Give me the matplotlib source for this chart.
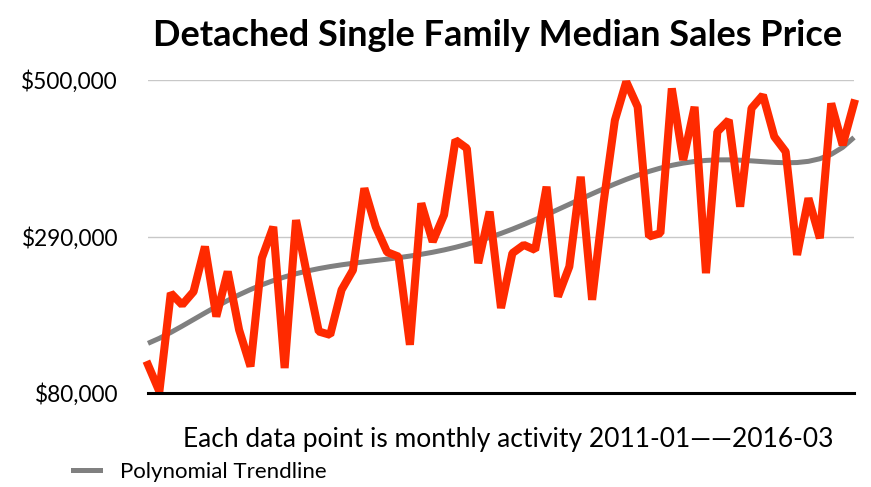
import numpy as np
import matplotlib.pyplot as plt
from matplotlib.lines import Line2D

plt.rcParams['font.family'] = ['Lato', 'DejaVu Sans']

# monthly median sales price, 2011-01 .. 2016-03
prices = [117800, 82000, 214000, 198300, 216000, 276500, 182600, 243000, 164800,
          115600, 261000, 303000, 113500, 312000, 236000, 162500, 158000, 218400,
          245000, 354700, 303000, 269000, 263000, 144700, 334600, 283000, 319000,
          419400, 408300, 254200, 323400, 194000, 267600, 278700, 272000, 356800,
          209400, 249600, 370200, 205000, 335000, 446000, 497700, 464000, 290000,
          294400, 488700, 392600, 464000, 240800, 430600, 446200, 330000, 462000,
          479700, 424000, 403800, 265300, 341300, 287700, 468600, 412700, 468600]
yticks = [80000, 290000, 500000]
ytick_labels = ['$80,000', '$290,000', '$500,000']

months = np.arange(len(prices))
coef = np.polyfit(months, prices, 6)
trend = np.polyval(coef, months)

fig = plt.figure(figsize=(8.71, 4.87), dpi=100)
ax = fig.add_axes([148 / 871, 1 - 393 / 487, 706 / 871, 313 / 487])

ax.plot(months, trend, color='#808080', lw=3.6, solid_capstyle='butt', zorder=2, clip_on=False)
ax.plot(months, prices, color='#ff2a00', lw=5.8, solid_joinstyle='bevel', zorder=3, clip_on=False)

ax.set_xlim(0, len(prices) - 1)
ax.set_ylim(80000, 500000)
ax.set_yticks(yticks)
ax.set_yticklabels(ytick_labels, fontsize=16.3)
ax.set_xticks([])
ax.tick_params(axis='y', length=0, pad=21.6)
ax.grid(axis='y', color='#c8c8c8', lw=1)
ax.set_axisbelow(True)
for s in ['left', 'right', 'top']:
    ax.spines[s].set_visible(False)
ax.spines['bottom'].set_linewidth(2.2)
ax.spines['bottom'].set_zorder(4)

fig.text(0.571, 0.928, 'Detached Single Family Median Sales Price', ha='center', va='center',
         fontsize=26, fontweight='bold')
fig.text(0.583, 0.097, 'Each data point is monthly activity 2011-01\u2014\u20142016-03',
         ha='center', va='center', fontsize=19)

handle = [Line2D([], [], color='#808080', lw=3.6)]
fig.legend(handle, ['Polynomial Trendline'], loc='center left', bbox_to_anchor=(0.084, 0.031),
           frameon=False, fontsize=16, handlelength=1.2, handletextpad=0.9,
           borderpad=0, borderaxespad=0)

fig.savefig('out.png', dpi=100)
